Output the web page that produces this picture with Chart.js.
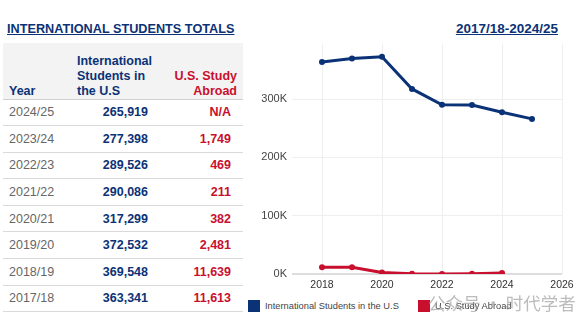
<!DOCTYPE html>
<html lang="en">
<head>
  <meta charset="UTF-8" />
  <title>International Students Totals</title>
  <script src="https://cdn.jsdelivr.net/npm/chart.js"></script>
  <style>
    body {
      margin: 0;
      width: 579px;
      height: 325px;
      position: relative;
      overflow: hidden;
      background: #fff;
      font-family: 'Liberation Sans', Arial, sans-serif;
    }
    .title {
      position: absolute;
      top: 21px;
      line-height: 16px;
      font-weight: bold;
      color: #0b3276;
      text-decoration: underline;
      white-space: nowrap;
    }
    #leftTitle { left: 7px; font-size: 12.7px; }
    #rightTitle { right: 21px; font-size: 13.5px; }
    #tbl {
      position: absolute;
      left: 3px;
      top: 43px;
      width: 240px;
    }
    .head {
      display: flex;
      align-items: flex-end;
      box-sizing: border-box;
      height: 56.5px;
      background: #f3f3f3;
      border-bottom: 1px solid #d0d0d0;
      font-size: 12.5px;
      line-height: 14.7px;
      font-weight: bold;
      padding-bottom: 0;
    }
    .row {
      display: flex;
      align-items: center;
      box-sizing: border-box;
      height: 26.6px;
      border-bottom: 1px solid #dadada;
      font-size: 12.5px;
    }
    .c1 { width: 67px; padding-left: 6px; box-sizing: border-box; }
    .c2 { width: 82px; box-sizing: border-box; }
    .c3 { width: 91px; box-sizing: border-box; text-align: right; }
    .head .c1 { color: #0b3276; }
    .head .c2 { color: #0b3276; padding-left: 7px; }
    .head .c3 { color: #c8102e; padding-right: 6px; }
    .row .c1 { color: #666; }
    .row .c2 { color: #0b3276; font-weight: bold; text-align: right; padding-right: 4px; }
    .row .c3 { color: #c8102e; font-weight: bold; padding-right: 12px; }
    #chartBox {
      position: absolute;
      left: 245px;
      top: 32px;
      line-height: 0;
    }
    .legend {
      position: absolute;
      top: 300px;
      height: 12px;
      display: flex;
      align-items: center;
      font-size: 9.3px;
      color: #444;
      white-space: nowrap;
    }
    .legend span {
      display: inline-block;
      width: 12px;
      height: 12px;
      margin-right: 5px;
    }
    #mark {
      position: absolute;
      left: 428px;
      top: 290px;
      font-size: 17.5px;
      color: rgba(160, 160, 160, 0.7);
      font-family: 'Noto Sans CJK SC', sans-serif;
      white-space: nowrap;
    }
  </style>
</head>
<body>
  <div class="title" id="leftTitle">INTERNATIONAL STUDENTS TOTALS</div>
  <div class="title" id="rightTitle">2017/18-2024/25</div>

  <div id="tbl">
    <div class="head">
      <div class="c1">Year</div>
      <div class="c2">International<br>Students in<br>the U.S</div>
      <div class="c3">U.S. Study<br>Abroad</div>
    </div>
  </div>

  <div id="chartBox"><canvas id="trend" width="334" height="266"></canvas></div>

  <div class="legend" style="left:248px"><span style="background:#0b3276"></span>International Students in the U.S</div>
  <div class="legend" style="left:418px"><span style="background:#c8102e"></span>U.S. Study Abroad</div>
  <div id="mark">公众号 · 时代学者</div>

  <script>
    // academic years, oldest first; plotted at the ending calendar year
    const academicYears = ['2017/18', '2018/19', '2019/20', '2020/21', '2021/22', '2022/23', '2023/24', '2024/25'];
    const years = [2018, 2019, 2020, 2021, 2022, 2023, 2024, 2025];
    const intlInUS = [363341, 369548, 372532, 317299, 290086, 289526, 277398, 265919];
    const usAbroad = [11613, 11639, 2481, 382, 211, 469, 1749, null];
    const xTicks = [2018, 2020, 2022, 2024, 2026];
    const yTicks = [0, 100000, 200000, 300000];

    const navy = '#0b3276';
    const red = '#c8102e';

    // table, newest first
    const tbl = document.getElementById('tbl');
    for (let i = academicYears.length - 1; i >= 0; i--) {
      const row = document.createElement('div');
      row.className = 'row';
      row.innerHTML =
        '<div class="c1">' + academicYears[i] + '</div>' +
        '<div class="c2">' + intlInUS[i].toLocaleString('en-US') + '</div>' +
        '<div class="c3">' + (usAbroad[i] == null ? 'N/A' : usAbroad[i].toLocaleString('en-US')) + '</div>';
      tbl.appendChild(row);
    }

    function points(values) {
      return years.map((x, i) => ({ x: x, y: values[i] })).filter(p => p.y != null);
    }

    new Chart(document.getElementById('trend'), {
      type: 'line',
      data: {
        datasets: [
          {
            label: 'International Students in the U.S',
            data: points(intlInUS),
            borderColor: navy,
            backgroundColor: navy,
            borderWidth: 3,
            pointRadius: 3,
            pointBorderWidth: 0,
            tension: 0
          },
          {
            label: 'U.S. Study Abroad',
            data: points(usAbroad),
            borderColor: red,
            backgroundColor: red,
            borderWidth: 3,
            pointRadius: 3,
            pointBorderWidth: 0,
            tension: 0
          }
        ]
      },
      options: {
        responsive: false,
        animation: false,
        layout: { padding: { top: 0, right: 17, left: 0, bottom: 0 } },
        plugins: { legend: { display: false }, tooltip: { enabled: false } },
        scales: {
          x: {
            type: 'linear',
            min: 2017,
            max: 2026,
            afterBuildTicks: s => { s.ticks = xTicks.map(v => ({ value: v })); },
            afterFit: s => { s.height = 24; },
            border: { display: false },
            grid: { color: '#efefef', drawTicks: false },
            ticks: {
              padding: 5,
              color: '#333',
              font: { family: 'Liberation Sans', size: 10.5 },
              callback: v => String(v)
            }
          },
          y: {
            min: 0,
            max: 395000,
            afterBuildTicks: s => { s.ticks = yTicks.map(v => ({ value: v })); },
            afterFit: s => { s.width = 47; },
            border: { display: false },
            grid: {
              drawTicks: false,
              color: c => c.tick && c.tick.value === 0 ? '#dddddd' : '#efefef',
              lineWidth: c => c.tick && c.tick.value === 0 ? 2 : 1
            },
            ticks: {
              padding: 5,
              color: '#444',
              font: { family: 'Liberation Sans', size: 11 },
              callback: v => (v / 1000) + 'K'
            }
          }
        }
      }
    });
  </script>
</body>
</html>
